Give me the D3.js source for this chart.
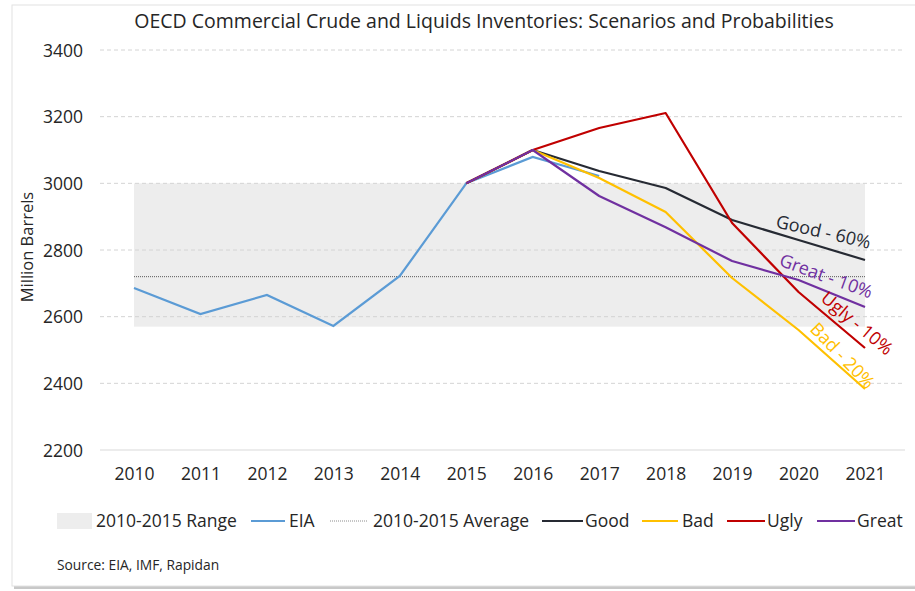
<!DOCTYPE html>
<html>
<head>
<meta charset="utf-8">
<script src="https://cdn.jsdelivr.net/npm/d3@7"></script>
<style>
  body { margin: 0; background: #fff; }
  svg text { font-family: "Open Sans", sans-serif; fill: #262626; }
</style>
</head>
<body>
<div id="chart"></div>
<script>
// ---- data ----
const years = [2010, 2011, 2012, 2013, 2014, 2015, 2016, 2017, 2018, 2019, 2020, 2021];
const yTicks = [2200, 2400, 2600, 2800, 3000, 3200, 3400];

// historical inventories (EIA), last point partial
const eiaYears = [2010, 2011, 2012, 2013, 2014, 2015, 2016, 2017];
const eiaValues = [2686, 2608, 2665, 2572, 2722, 3000, 3079, 3022];

// scenario paths start from 2015
const scenYears = [2015, 2016, 2017, 2018, 2019, 2020, 2021];
const goodValues = [3000, 3100, 3037, 2986, 2890, 2830, 2770];
const badValues = [3000, 3100, 3016, 2914, 2716, 2560, 2383];
const uglyValues = [3000, 3100, 3166, 3211, 2881, 2674, 2506];
const greatValues = [3000, 3100, 2962, 2868, 2767, 2710, 2629];

const rangeLow = 2570, rangeHigh = 3000, rangeAvg = 2720;

const seriesNames = ["Good", "Bad", "Ugly", "Great"];
const seriesLabels = ["Good - 60%", "Bad - 20%", "Ugly - 10%", "Great - 10%"];

// ---- setup ----
const W = 915, H = 591;
const svg = d3.select("#chart").append("svg").attr("width", W).attr("height", H);

// card frame with a soft bottom shadow
svg.append("rect").attr("x", 14).attr("y", 8).attr("width", W - 12).attr("height", 581)
  .attr("fill", "#c8c8c8");
svg.append("rect").attr("x", 12).attr("y", 5).attr("width", W - 10).attr("height", 581)
  .attr("fill", "#fff").attr("stroke", "#e2e2e2");

const x = d3.scalePoint().domain(years).range([134, 865]);
const y = d3.scaleLinear().domain([2200, 3400]).range([450, 50]);
const plotL = 100, plotR = 905;

const colors = { EIA: "#5b9bd5", Good: "#262a33", Bad: "#ffc000", Ugly: "#c00000", Great: "#7030a0" };

// title
svg.append("text").attr("x", 484).attr("y", 28).attr("text-anchor", "middle")
  .style("font-size", "19.5px").text("OECD Commercial Crude and Liquids Inventories: Scenarios and Probabilities");

// range band
svg.append("rect").attr("x", x(2010)).attr("y", y(rangeHigh))
  .attr("width", x(2021) - x(2010)).attr("height", y(rangeLow) - y(rangeHigh))
  .attr("fill", "#ededed");

// gridlines
svg.append("g").selectAll("line").data(yTicks.filter(d => d > 2200)).join("line")
  .attr("x1", plotL).attr("x2", plotR).attr("y1", d => y(d)).attr("y2", d => y(d))
  .attr("stroke", "#d4d4d4").attr("stroke-dasharray", "4,3").attr("stroke-width", 1);
svg.append("line").attr("x1", plotL).attr("x2", plotR).attr("y1", y(2200)).attr("y2", y(2200))
  .attr("stroke", "#d9d9d9").attr("stroke-width", 1);

// average
svg.append("line").attr("x1", x(2010)).attr("x2", x(2021)).attr("y1", y(rangeAvg)).attr("y2", y(rangeAvg))
  .attr("stroke", "#595959").attr("stroke-dasharray", "1,1").attr("stroke-width", 1);

// axes
const yAxis = svg.append("g").attr("transform", "translate(83,0)")
  .call(d3.axisLeft(y).tickValues(yTicks).tickSize(0).tickPadding(0).tickFormat(d3.format("d")));
yAxis.select(".domain").remove();
yAxis.selectAll("text").style("font-size", "17.5px").attr("dy", "0.35em");

const xAxis = svg.append("g").attr("transform", "translate(0,468)")
  .call(d3.axisBottom(x).tickSize(0).tickPadding(0).tickFormat(d3.format("d")));
xAxis.select(".domain").remove();
xAxis.selectAll("text").style("font-size", "17.5px").attr("dy", "0.71em");

svg.append("text").attr("transform", "translate(33,247) rotate(-90)").attr("text-anchor", "middle")
  .style("font-size", "16.5px").text("Million Barrels");

// lines
const line = d3.line().x(d => x(d[0])).y(d => y(d[1]));
svg.append("path").datum(d3.zip(eiaYears, eiaValues)).attr("d", line)
  .attr("fill", "none").attr("stroke", colors.EIA).attr("stroke-width", 2.2);

const scen = [goodValues, badValues, uglyValues, greatValues];
seriesNames.forEach((name, i) => {
  svg.append("path").datum(d3.zip(scenYears, scen[i])).attr("d", line)
    .attr("fill", "none").attr("stroke", colors[name]).attr("stroke-width", 2.2)
    .attr("stroke-linejoin", "round");
});

// rotated end labels
const labelPos = [
  { x: 822, y: 238, a: 13 },
  { x: 838, y: 360, a: 46 },
  { x: 853, y: 328, a: 40 },
  { x: 824, y: 282, a: 20 }
];
seriesNames.forEach((name, i) => {
  const p = labelPos[i];
  svg.append("text").attr("transform", `translate(${p.x},${p.y}) rotate(${p.a})`)
    .attr("text-anchor", "middle").style("font-size", "18px").style("fill", colors[name])
    .text(seriesLabels[i]);
});

// legend
const leg = svg.append("g").attr("transform", "translate(0,521)");
leg.append("rect").attr("x", 57).attr("y", -8).attr("width", 35).attr("height", 16).attr("fill", "#ededed");
leg.append("text").attr("x", 96).attr("dy", "0.35em").style("font-size", "17.5px").text("2010-2015 Range");
const legItems = [
  { key: "EIA", x1: 251, x2: 285, tx: 289, dash: null, color: colors.EIA, w: 2 },
  { key: "2010-2015 Average", x1: 330, x2: 368, tx: 373, dash: "1,1", color: "#8c8c8c", w: 1 },
  { key: "Good", x1: 542, x2: 583, tx: 585, dash: null, color: colors.Good, w: 2 },
  { key: "Bad", x1: 642, x2: 678, tx: 682, dash: null, color: colors.Bad, w: 2 },
  { key: "Ugly", x1: 727, x2: 765, tx: 767, dash: null, color: colors.Ugly, w: 2 },
  { key: "Great", x1: 817, x2: 855, tx: 857, dash: null, color: colors.Great, w: 2 }
];
legItems.forEach(d => {
  leg.append("line").attr("x1", d.x1).attr("x2", d.x2).attr("stroke", d.color)
    .attr("stroke-width", d.w).attr("stroke-dasharray", d.dash);
  leg.append("text").attr("x", d.tx).attr("dy", "0.35em").style("font-size", "17.5px").text(d.key);
});

// source
svg.append("text").attr("x", 57).attr("y", 570).style("font-size", "13.8px").text("Source: EIA, IMF, Rapidan");
</script>
</body>
</html>
